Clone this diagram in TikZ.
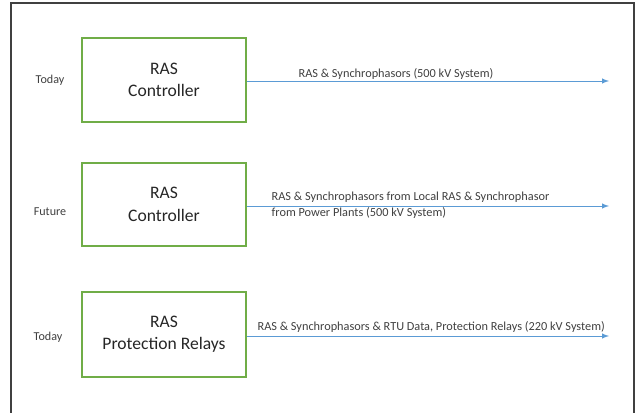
\documentclass[tikz,border=0pt]{standalone}
\usepackage{fontspec}
\setmainfont{Carlito}
\usetikzlibrary{arrows,positioning}
\definecolor{boxgreen}{RGB}{112,173,71}
\definecolor{linkblue}{RGB}{91,155,213}
\definecolor{textgray}{RGB}{64,64,64}

\begin{document}
\begin{tikzpicture}[
    sysbox/.style={rectangle, draw=boxgreen, line width=0.9pt, minimum width=4.1cm, align=center, font=\fontsize{12.5}{16}\selectfont, text=black!85},
    era/.style={font=\fontsize{8.6}{11}\selectfont, text=textgray},
    flow/.style={font=\fontsize{8.75}{11.4}\selectfont, text=textgray, inner sep=1pt},
    arrow/.style={->, line width=0.7pt, >=latex, linkblue}
]

% Canvas and frame
\useasboundingbox (0,0) rectangle (15.9,-10.3);
\draw[line width=1.3pt, black!75] (0.275,-10.6) -- (0.275,-0.075) -- (15.85,-0.075) -- (15.85,-10.6);

% Boxes
\node[sysbox, minimum height=2.1cm] (ctrl1) at (4.1,-2.0) {RAS\\Controller};
\node[sysbox, minimum height=2.075cm] (ctrl2) at (4.1,-5.11) {RAS\\Controller};
\node[sysbox, minimum height=2.125cm] (relay) at (4.1,-8.36) {RAS\\Protection Relays};

% Arrow ends
\coordinate (end1) at (15.225,-2.025);
\coordinate (end2) at (15.225,-5.15);
\coordinate (end3) at (15.225,-8.4);

% Links
\draw[arrow] (ctrl1.east |- end1) -- (end1);
\draw[arrow] (ctrl2.east |- end2) -- (end2);
\draw[arrow] (relay.east |- end3) -- (end3);

% Link labels
\node[flow] (lab1) at (9.9,-1.85) {RAS \& Synchrophasors (500 kV System)};
\node[flow, anchor=west, align=left] (lab2) at (6.75,-5.125) {RAS \& Synchrophasors from Local RAS \& Synchrophasor\\from Power Plants (500 kV System)};
\node[flow] (lab3) at (10.78,-8.18) {RAS \& Synchrophasors \& RTU Data, Protection Relays (220 kV System)};

% Timeline labels
\node[era] (t1) at (1.25,-2.0) {Today};
\node[era] (t2) at (1.25,-5.28) {Future};
\node[era] (t3) at (1.2,-8.42) {Today};

\end{tikzpicture}
\end{document}
